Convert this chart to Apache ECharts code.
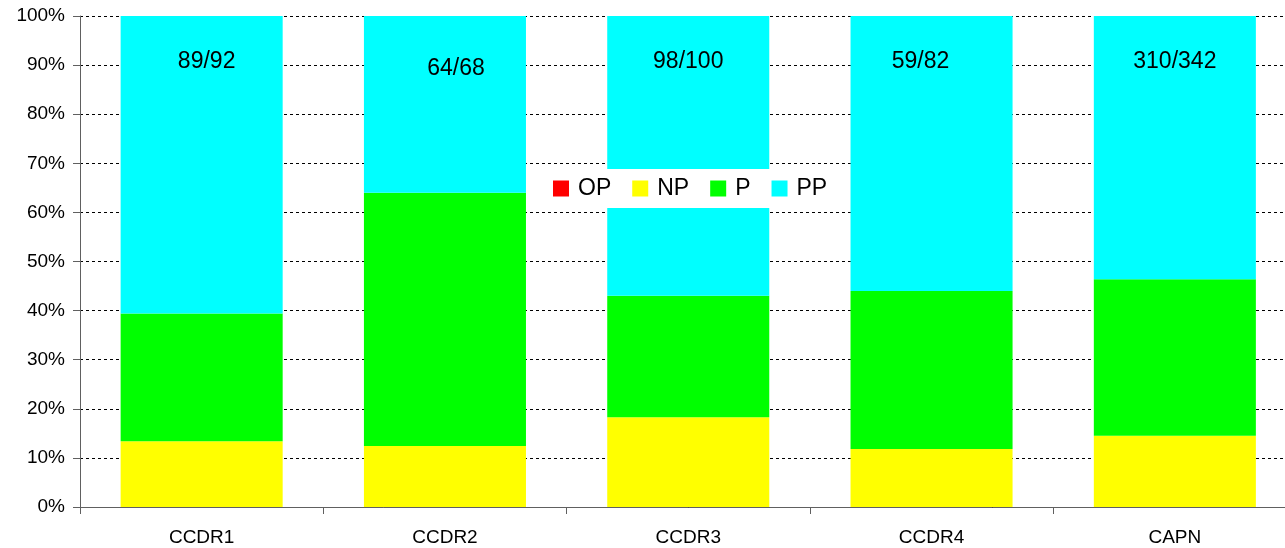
<!DOCTYPE html>
<html>
<head>
<meta charset="utf-8">
<script src="https://cdn.jsdelivr.net/npm/echarts@6/dist/echarts.min.js"></script>
<style>
  html, body { margin: 0; padding: 0; background: #fff; overflow: hidden; }
  #main { width: 1300px; height: 548px; }
</style>
</head>
<body>
<div id="main"></div>
<script>
// 数据（百分比）
var categories = ['CCDR1', 'CCDR2', 'CCDR3', 'CCDR4', 'CAPN']
var opValues = [0, 0, 0, 0, 0]
var npValues = [13.4, 12.4, 18.3, 11.8, 14.5]
var pValues = [26.0, 51.6, 24.7, 32.2, 31.9]
var ppValues = [60.6, 36.0, 57.0, 56.0, 53.6]
var ratioLabels = ['89/92', '64/68', '98/100', '59/82', '310/342']

// 标签的微调位置
var labelOffsets = [[5, 0], [11, 7], [0, 0], [-11, 0], [0, 0]]

var font = 'Liberation Sans, Arial, sans-serif'

var ppData = ppValues.map(function (v, i) {
  return {
    value: v,
    label: { offset: labelOffsets[i] }
  }
})

var option = {
  animation: false,
  backgroundColor: '#fff',
  grid: {
    left: 80,
    top: 16,
    width: 1216.5,
    height: 491
  },
  legend: {
    data: ['OP', 'NP', 'P', 'PP'],
    left: 546,
    top: 169,
    padding: [8, 7, 8, 7],
    backgroundColor: '#fff',
    icon: 'rect',
    itemWidth: 16,
    itemHeight: 16,
    itemGap: 21,
    textStyle: {
      fontFamily: font,
      fontSize: 23,
      color: '#000',
      padding: [0, 0, 0, 4]
    }
  },
  xAxis: {
    type: 'category',
    data: categories,
    axisLine: { lineStyle: { color: '#606060', width: 1 } },
    axisTick: { show: true, length: 7, lineStyle: { color: '#606060' } },
    axisLabel: {
      fontFamily: font,
      fontSize: 19,
      color: '#000',
      margin: 21
    }
  },
  yAxis: {
    type: 'value',
    min: 0,
    max: 100,
    interval: 10,
    axisLine: { show: true, lineStyle: { color: '#606060', width: 1 } },
    axisTick: { show: true, length: 7, lineStyle: { color: '#606060' } },
    axisLabel: {
      formatter: '{value}%',
      fontFamily: font,
      fontSize: 19,
      color: '#000',
      margin: 15
    },
    splitLine: {
      show: true,
      lineStyle: { color: '#000', type: [3, 3], width: 1 }
    }
  },
  series: [
    {
      name: 'OP',
      type: 'bar',
      stack: 'total',
      barWidth: '66.6%',
      itemStyle: { color: '#FF0000' },
      data: opValues
    },
    {
      name: 'NP',
      type: 'bar',
      stack: 'total',
      barWidth: '66.6%',
      itemStyle: { color: '#FFFF00' },
      data: npValues
    },
    {
      name: 'P',
      type: 'bar',
      stack: 'total',
      barWidth: '66.6%',
      itemStyle: { color: '#00FF00' },
      data: pValues
    },
    {
      name: 'PP',
      type: 'bar',
      stack: 'total',
      barWidth: '66.6%',
      itemStyle: { color: '#00FFFF' },
      label: {
        show: true,
        position: ['50%', 46],
        align: 'center',
        verticalAlign: 'middle',
        fontFamily: font,
        fontSize: 23,
        color: '#000',
        formatter: function (p) { return ratioLabels[p.dataIndex] }
      },
      data: ppData
    }
  ]
}

var myChart = echarts.init(document.getElementById('main'))
myChart.setOption(option)
</script>
</body>
</html>
